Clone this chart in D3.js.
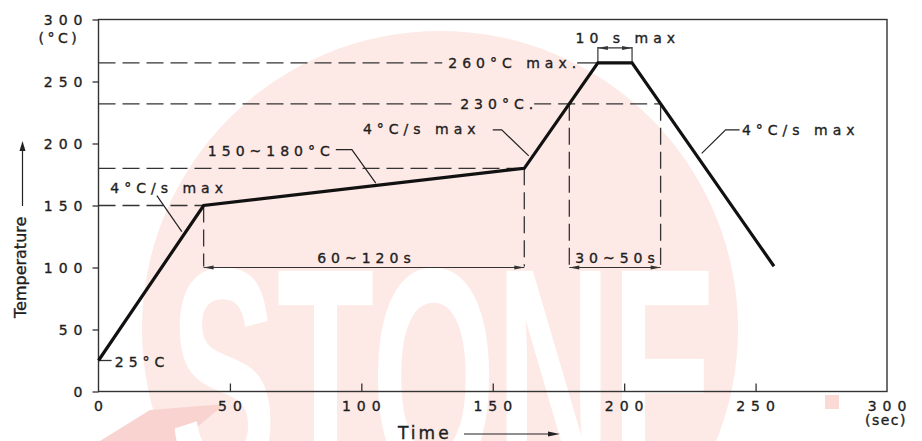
<!DOCTYPE html>
<html>
<head>
<meta charset="utf-8">
<script src="https://cdn.jsdelivr.net/npm/d3@7/dist/d3.min.js"></script>
<style>
  html, body { margin: 0; padding: 0; background: #fff; }
  svg { display: block; }
  text { font-family: "DejaVu Sans", sans-serif; fill: #1e1e1e; }
  .ink { stroke: #1e1e1e; stroke-width: 0.35px; }
</style>
</head>
<body>
<svg id="chart" width="922" height="441"></svg>
<script>
// ---- data ----
const profileTime = [0, 40, 162, 190, 203, 257];
const profileTemp = [25, 150, 180, 265, 265, 101];
const xTicks = [0, 50, 100, 150, 200, 250, 300];
const yTicks = [0, 50, 100, 150, 200, 250, 300];
const preheatLevels = [150, 180];          // soak window
const preheatTimes = [40, 162];
const liquidusLevel = 232;                 // "230°C."
const peakLevel = 265;                     // "260°C max."
const arrowLevel = 100;                    // level of the duration arrows
const rampLabels = ["4°C/s  max", "150~180°C", "4°C/s  max", "4°C/s  max"];
// label anchor [time, temp] and leader points
const rampLabelPos = [[4.5, 164], [41.6, 194], [100.6, 211.5], [244.8, 211]];
const rampLeaders = [
  [[22.2, 158], [31.7, 129]],
  [[90.3, 195], [96.4, 195], [105.5, 168]],
  [[150, 211], [153.4, 211], [163.7, 190]],
  [[243.9, 211], [238.6, 211], [229.5, 192]]
];

const svg = d3.select("#chart");
const x = d3.scaleLinear().domain([0, 300]).range([98.5, 887]);
const y = d3.scaleLinear().domain([0, 300]).range([391.5, 19.5]);

// ---- watermark (decorative background) ----
const wm = svg.append("g");
wm.append("circle").attr("cx", 440).attr("cy", 329).attr("r", 298).attr("fill", "#fde9e6");
wm.append("path").attr("d", "M100,441 L150,410 L225,404 L180,441 Z").attr("fill", "#f9d3cf");
wm.append("rect").attr("x", 825).attr("y", 395).attr("width", 14).attr("height", 14).attr("fill", "#fbd9d5");
wm.append("text").text("STONE")
  .attr("x", 170).attr("y", 484)
  .attr("textLength", 548).attr("lengthAdjust", "spacingAndGlyphs")
  .style("font-family", "Liberation Sans, Arial, sans-serif")
  .style("font-weight", "bold").style("font-size", "310px")
  .style("fill", "#ffffff");

const ink = "#222";
const dash = "17,7";
const FS = "14px", LS = 5, LSN = 6;

function interpTime(level, rising) {
  for (let i = 0; i < profileTime.length - 1; i++) {
    const a = profileTemp[i], b = profileTemp[i + 1];
    if (rising && a < level && b >= level) return profileTime[i] + (level - a) / (b - a) * (profileTime[i + 1] - profileTime[i]);
    if (!rising && a >= level && b < level) return profileTime[i] + (a - level) / (a - b) * (profileTime[i + 1] - profileTime[i]);
  }
}
const tLiqUp = interpTime(liquidusLevel, true);
const tLiqDown = interpTime(liquidusLevel, false);
const tPeakStart = profileTime[3], tPeakEnd = profileTime[4];

// ---- frame & axes ----
const frame = svg.append("g").attr("stroke", "#333").attr("stroke-width", 1.4).attr("fill", "none");
frame.append("rect").attr("x", x(0)).attr("y", y(300)).attr("width", x(300) - x(0)).attr("height", y(0) - y(300));

const yAxis = d3.axisLeft(y).tickValues(yTicks).tickSize(6).tickPadding(10).tickFormat(d3.format("d"));
const gy = svg.append("g").attr("transform", `translate(${x(0)},0)`).call(yAxis);
gy.select(".domain").remove();
gy.selectAll("line").attr("stroke", "#333").attr("stroke-width", 1.3);
gy.selectAll("text").attr("class", "ink").style("font-size", FS).style("letter-spacing", LSN + "px")
  .style("font-family", "DejaVu Sans").attr("fill", "#1e1e1e").attr("dx", LSN + "px").attr("dy", "0.36em");

const xAxis = d3.axisTop(x).tickValues(xTicks.filter(d => d > 0 && d < 300)).tickSize(8).tickFormat("");
const gx = svg.append("g").attr("transform", `translate(0,${y(0)})`).call(xAxis);
gx.select(".domain").remove();
gx.selectAll("line").attr("stroke", "#333").attr("stroke-width", 1.3);
svg.append("g").selectAll("text").data(xTicks).join("text")
  .attr("class", "ink")
  .attr("x", d => x(d) + LSN / 2).attr("y", y(0) + 19)
  .attr("text-anchor", "middle")
  .style("font-size", FS).style("letter-spacing", LSN + "px")
  .text(d => d);
svg.append("text").attr("class", "ink").attr("x", x(0) - 60).attr("y", y(300) + 23).style("font-size", "14px").style("letter-spacing", "3.5px").text("(°C)");
svg.append("text").attr("class", "ink").attr("x", x(300) - 22).attr("y", y(0) + 33).style("font-size", "14px").style("letter-spacing", "1.5px").text("(sec)");

// axis titles
svg.append("text").attr("class", "ink").attr("transform", "translate(26,318) rotate(-90)")
  .style("font-size", "16px").text("Temperature");
svg.append("line").attr("x1", 22.5).attr("x2", 22.5).attr("y1", 206).attr("y2", 146)
  .attr("stroke", ink).attr("stroke-width", 1.2);
svg.append("path").attr("d", "M22.5,141 L19.5,151 L25.5,151 Z").attr("fill", ink);
svg.append("text").attr("class", "ink").attr("x", 398).attr("y", 439).style("font-size", "17px").style("letter-spacing", "3px").text("Time");
svg.append("line").attr("x1", 464).attr("x2", 552).attr("y1", 434).attr("y2", 434).attr("stroke", ink).attr("stroke-width", 1.2);
svg.append("path").attr("d", "M560,434 L548,431.5 L548,436.5 Z").attr("fill", ink);

const annot = svg.append("g");
function txt(t, px, py, anchor) {
  const dx = anchor === "middle" ? LS / 2 : (anchor === "end" ? LS : 0);
  return annot.append("text").attr("class", "ink").attr("x", px + dx).attr("y", py).attr("text-anchor", anchor || "start")
    .style("font-size", FS).style("letter-spacing", LS + "px").text(t);
}
function dashed(x1, y1, x2, y2) {
  annot.append("line").attr("x1", x1).attr("y1", y1).attr("x2", x2).attr("y2", y2)
    .attr("stroke", "#333").attr("stroke-width", 1.3).attr("stroke-dasharray", dash);
}

// ---- horizontal reference lines ----
preheatLevels.forEach((lv, i) => dashed(x(0), y(lv), x(preheatTimes[i]), y(lv)));

// 260 line with label
const c260 = 157.4;
const t260 = txt("260°C max.", x(c260), y(peakLevel) + 5, "middle");
let w = t260.node().getComputedTextLength() - LS;
dashed(x(0), y(peakLevel), x(c260) - w / 2 - 6, y(peakLevel));
annot.append("line").attr("x1", x(c260) + w / 2 + 1).attr("x2", x(tPeakStart)).attr("y1", y(peakLevel)).attr("y2", y(peakLevel)).attr("stroke", "#333").attr("stroke-width", 1.3);

// 230 line with label
const c230 = 151.5;
const t230 = txt("230°C.", x(c230), y(liquidusLevel) + 5, "middle");
w = t230.node().getComputedTextLength() - LS;
dashed(x(0), y(liquidusLevel), x(c230) - w / 2 - 6, y(liquidusLevel));
dashed(x(c230) + w / 2 + 1, y(liquidusLevel), x(tLiqDown), y(liquidusLevel));

// vertical reference lines
preheatTimes.forEach((t, i) => dashed(x(t), y(preheatLevels[i]), x(t), y(arrowLevel) - 1));
[tLiqUp, tLiqDown].forEach(t => dashed(x(t), y(liquidusLevel), x(t), y(arrowLevel) - 1));

// duration arrows
function dimArrow(t1, t2, lv) {
  const yy = y(lv);
  annot.append("line").attr("x1", x(t1)).attr("x2", x(t2)).attr("y1", yy).attr("y2", yy).attr("stroke", "#333").attr("stroke-width", 1.1);
  annot.append("path").attr("d", `M${x(t1)},${yy} l10,-2 l0,4 Z`).attr("fill", "#333");
  annot.append("path").attr("d", `M${x(t2)},${yy} l-10,-2 l0,4 Z`).attr("fill", "#333");
}
dimArrow(preheatTimes[0], preheatTimes[1], arrowLevel);
txt("60~120s", x((preheatTimes[0] + preheatTimes[1]) / 2), y(arrowLevel) - 5, "middle");
dimArrow(tLiqUp, tLiqDown, arrowLevel);
txt("30~50s", x((tLiqUp + tLiqDown) / 2), y(arrowLevel) - 5, "middle");

// 10 s max bracket
const yb = y(peakLevel) - 15;
[tPeakStart, tPeakEnd].forEach(t => annot.append("line").attr("x1", x(t)).attr("x2", x(t)).attr("y1", y(peakLevel)).attr("y2", yb - 1).attr("stroke", "#333").attr("stroke-width", 1.2));
dimArrow(tPeakStart, tPeakEnd, (y.invert(yb)));
txt("10  s  max", x(181.5), yb - 5);

// 25°C
annot.append("line").attr("x1", x(0)).attr("x2", x(5)).attr("y1", y(profileTemp[0])).attr("y2", y(profileTemp[0])).attr("stroke", "#333").attr("stroke-width", 1.3);
txt("25°C", x(6.2), y(profileTemp[0]) + 6);

// ramp labels + leaders
rampLabels.forEach((t, i) => txt(t, x(rampLabelPos[i][0]), y(rampLabelPos[i][1]) + 5));
rampLeaders.forEach(pts => annot.append("path")
  .attr("d", d3.line().x(d => x(d[0])).y(d => y(d[1]))(pts))
  .attr("fill", "none").attr("stroke", "#222").attr("stroke-width", 1.2));

// ---- profile ----
svg.append("path")
  .datum(profileTime.map((t, i) => [t, profileTemp[i]]))
  .attr("d", d3.line().x(d => x(d[0])).y(d => y(d[1])))
  .attr("fill", "none").attr("stroke", "#111").attr("stroke-width", 3.2)
  .attr("stroke-linejoin", "miter");
</script>
</body>
</html>
